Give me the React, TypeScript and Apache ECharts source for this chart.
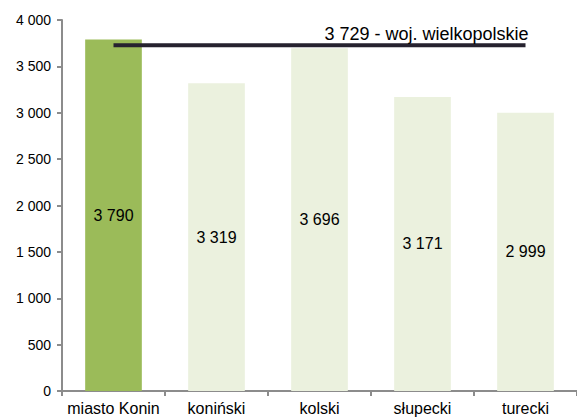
import React, { useEffect, useRef } from "react";
import * as echarts from "echarts";

const categories = ["miasto Konin", "koniński", "kolski", "słupecki", "turecki"];
const values = [3790, 3319, 3696, 3171, 2999];
const regionValue = 3729;
const regionLabel = "woj. wielkopolskie";
const yTicks = [0, 500, 1000, 1500, 2000, 2500, 3000, 3500, 4000];

const fmt = (v: number) => String(v).replace(/\B(?=(\d{3})+(?!\d))/g, " ");

export default function App() {
  const ref = useRef<HTMLDivElement>(null);
  useEffect(() => {
    const chart = echarts.init(ref.current!, null, { renderer: "svg" });
    const font = "Liberation Sans, Arial, sans-serif";
    chart.setOption({
      animation: false,
      textStyle: { fontFamily: font },
      grid: { left: 62, width: 518, top: 20, height: 371 },
      xAxis: {
        type: "category",
        data: categories,
        boundaryGap: true,
        axisLine: { lineStyle: { color: "#8c8c8c", width: 2 } },
        axisTick: { show: true, length: 5, lineStyle: { color: "#8c8c8c", width: 2 } },
        axisLabel: { color: "#000", fontSize: 16, margin: 9, interval: 0, fontFamily: font },
      },
      yAxis: {
        type: "value",
        min: yTicks[0],
        max: yTicks[yTicks.length - 1],
        interval: 500,
        splitLine: { show: false },
        axisLine: { show: true, lineStyle: { color: "#8c8c8c", width: 2 } },
        axisTick: { show: true, length: 5, lineStyle: { color: "#8c8c8c", width: 2 } },
        axisLabel: { color: "#000", fontSize: 14, margin: 11, formatter: (v: number) => fmt(v), fontFamily: font },
      },
      series: [
        {
          type: "bar",
          barWidth: "55%",
          data: values.map((v, i) => ({
            value: v,
            itemStyle: { color: i === 0 ? "#9bbb59" : "#ebf1de" },
          })),
          label: {
            show: true,
            position: "inside",
            color: "#000",
            fontSize: 16,
            fontFamily: font,
            formatter: (p: any) => fmt(p.value),
          },
        },
        {
          type: "line",
          data: categories.map(() => regionValue),
          symbol: "none",
          showSymbol: false,
          lineStyle: { color: "#26222f", width: 4 },
          endLabel: {
            show: true,
            align: "right",
            verticalAlign: "bottom",
            distance: 0,
            offset: [3, -2],
            color: "#000",
            fontSize: 18,
            fontFamily: font,
            formatter: () => fmt(regionValue) + " - " + regionLabel,
          },
          z: 5,
        },
      ],
    });
    return () => chart.dispose();
  }, []);
  return <div ref={ref} style={{ width: 577, height: 419, position: "absolute", left: 0, top: 0 }} />;
}
